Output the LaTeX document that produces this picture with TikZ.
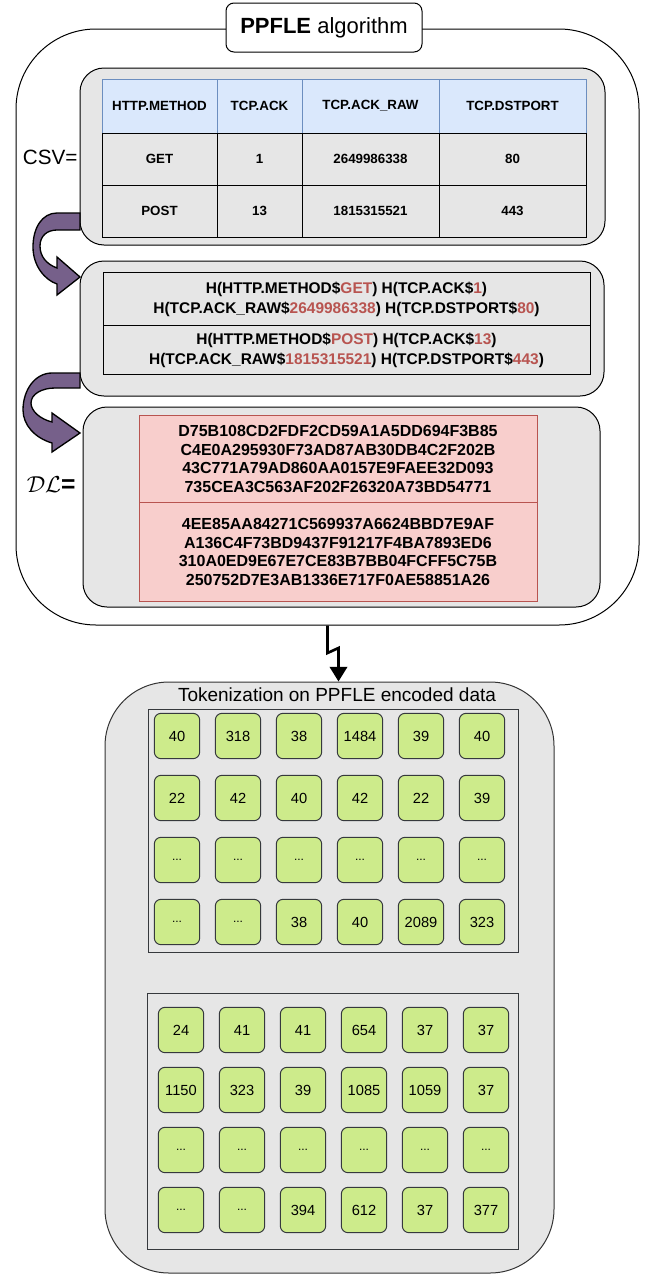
\documentclass[tikz,border=0pt]{standalone}
\usepackage{fontspec}
\setmainfont{Liberation Sans}
\usepackage{xcolor}
\usetikzlibrary{arrows.meta}

\definecolor{boxgray}{HTML}{E6E6E6}
\definecolor{headblue}{HTML}{DAE8FC}
\definecolor{headline}{HTML}{6C8EBF}
\definecolor{hashred}{HTML}{F8CECC}
\definecolor{hashline}{HTML}{B85450}
\definecolor{tokgreen}{HTML}{CDEB8B}
\definecolor{tokline}{HTML}{36393D}
\definecolor{bendpurple}{HTML}{76608A}

\newcommand{\tokdots}{{\fontsize{9}{10}\selectfont...}}

\begin{document}
\begin{tikzpicture}[x=0.75pt,y=0.75pt,yscale=-1,xscale=1,line width=0.75pt,
    panel/.style={draw=black, fill=boxgray, rounded corners=18pt, inner sep=0pt},
    cell/.style={font=\bfseries\fontsize{10}{12}\selectfont, inner sep=0.75pt},
    hashtext/.style={font=\bfseries\fontsize{11.6}{15}\selectfont, align=center, inner sep=0.75pt},
    hextext/.style={font=\bfseries\fontsize{12}{14}\selectfont, align=center, inner sep=0.75pt},
    token/.style={draw=tokline, fill=tokgreen, rounded corners=5pt, minimum width=34pt, minimum height=34pt, inner sep=0pt, font=\fontsize{11}{12}\selectfont},
    bentarrow/.style={draw=black, fill=bendpurple, line width=1pt},
  ]
\useasboundingbox (0,0) rectangle (652,1274);

%Shape: Rounded Rect (algorithm frame)
\node[draw=black, fill=white, rounded corners=60pt, minimum width=467.25pt, minimum height=447pt, inner sep=0pt] (algo) at (327.5,327) {};
% Text Node
\node[draw=black, fill=white, rounded corners=6pt, minimum width=147pt, minimum height=36.75pt, font=\fontsize{16.5}{20}\selectfont] (algoTitle) at (324,27.5) {\textbf{PPFLE} algorithm};

%Shape: Rounded Rect (panels)
\node[panel, minimum width=393.75pt, minimum height=132.75pt] (csvPanel) at (342.5,156.5) {};
\node[panel, minimum width=393pt, minimum height=101.25pt] (hashPanel) at (342,328.5) {};
\node[panel, minimum width=387.75pt, minimum height=150pt] (dlPanel) at (341.5,507) {};

%Shape: Table
\fill[headblue] (102,79) rectangle (586,133);
\draw[headline] (102,133) -- (102,79) -- (586,79) -- (586,133);
\draw[headline] (217,79) -- (217,133) (302,79) -- (302,133) (439,79) -- (439,133);
\draw (102,133) rectangle (586,237);
\draw (102,185) -- (586,185);
\draw (217,133) -- (217,237) (302,133) -- (302,237) (439,133) -- (439,237);

% Text Node
\node[cell] (hdMethod) at (159.5,106) {HTTP.METHOD};
\node[cell] (hdAck) at (259.5,106) {TCP.ACK};
\node[cell] (hdAckRaw) at (370.5,106) {TCP.ACK\_RAW};
\node[cell] (hdPort) at (512.5,106) {TCP.DSTPORT};
\node[cell] (getMethod) at (159.5,159) {GET};
\node[cell] (getAck) at (259.5,159) {1};
\node[cell] (getAckRaw) at (370.5,159) {2649986338};
\node[cell] (getPort) at (512.5,159) {80};
\node[cell] (postMethod) at (159.5,211) {POST};
\node[cell] (postAck) at (259.5,211) {13};
\node[cell] (postAckRaw) at (370.5,211) {1815315521};
\node[cell] (postPort) at (512.5,211) {443};

% Text Node
\node[anchor=east, font=\fontsize{15.5}{18}\selectfont, inner sep=0.75pt] (csvLabel) at (79,157) {CSV=};

%Shape: Hash table
\draw (103,272) rectangle (590,374);
\draw (103,325) -- (590,325);
% Text Node
\node[hashtext] (hashGet) at (346.5,299) {H(HTTP.METHOD\$\textcolor{hashline}{GET}) H(TCP.ACK\$\textcolor{hashline}{1})\\H(TCP.ACK\_RAW\$\textcolor{hashline}{2649986338}) H(TCP.DSTPORT\$\textcolor{hashline}{80})};
\node[hashtext] (hashPost) at (346.5,350) {H(HTTP.METHOD\$\textcolor{hashline}{POST}) H(TCP.ACK\$\textcolor{hashline}{13})\\H(TCP.ACK\_RAW\$\textcolor{hashline}{1815315521}) H(TCP.DSTPORT\$\textcolor{hashline}{443})};

%Shape: Encrypted block
\draw[draw=hashline, fill=hashred] (139,415) rectangle (537,601);
\draw[hashline] (139,502) -- (537,502);
% Text Node
\node[hextext] (hexGet) at (338,459) {D75B108CD2FDF2CD59A1A5DD694F3B85\\C4E0A295930F73AD87AB30DB4C2F202B\\43C771A79AD860AA0157E9FAEE32D093\\735CEA3C563AF202F26320A73BD54771};
\node[hextext] (hexPost) at (338,552) {4EE85AA84271C569937A6624BBD7E9AF\\A136C4F73BD9437F91217F4BA7893ED6\\310A0ED9E67E7CE83B7BB04FCFF5C75B\\250752D7E3AB1336E717F0AE58851A26};
% Text Node
\node[anchor=east, font=\fontsize{18.5}{20}\selectfont, inner sep=0.75pt] (dlLabel) at (77,485) {$\mathcal{DL}$\textbf{=}};

%Curve Lines (bent arrows)
\draw[bentarrow] (80,213) -- (57,213) .. controls (42,213) and (33,228) .. (33,247) .. controls (33,266) and (45,280) .. (57,284) -- (57,295) -- (80,277) -- (57,257) -- (57,268) .. controls (46,264) and (40,256) .. (40,246) .. controls (40,236) and (47,230) .. (57,230) -- (80,230) -- cycle;
\draw[bentarrow] (80,373) -- (52,373) .. controls (35,373) and (23,390) .. (23,410) .. controls (23,425) and (35,438) .. (52,443) -- (52,452) -- (80,433) -- (52,413) -- (52,422) .. controls (40,419) and (31,411) .. (31,403) .. controls (31,394) and (42,388) .. (55,388) -- (80,388) -- cycle;

%Shape: Rounded Rect (tokenization frame)
\node[draw=black!80, fill=boxgray, rounded corners=48pt, minimum width=336.75pt, minimum height=443.25pt, inner sep=0pt] (tok) at (329.5,977.5) {};
% Text Node
\node[font=\fontsize{14.25}{17}\selectfont, inner sep=0.75pt] (tokTitle) at (337,695) {Tokenization on PPFLE encoded data};

%Connector
\coordinate (jogA) at (327.5,653);
\coordinate (jogB) at (338.5,648);
\draw[line width=2pt, -{Triangle[width=13pt,length=11pt]}] (algo.south) -- (jogA) -- (jogB) -- (jogB |- tok.north);

%Shape: token grids
\draw[tokline] (148,709) rectangle (518,952);
\draw[tokline] (147,993) rectangle (518,1249);
\foreach \vals [count=\r] in {{40,318,38,1484,39,40},{22,42,40,42,22,39},{\tokdots,\tokdots,\tokdots,\tokdots,\tokdots,\tokdots},{\tokdots,\tokdots,38,40,2089,323}}
  \foreach \v [count=\c] in \vals
    \node[token] (tokA-\r-\c) at ({177+61*(\c-1)},{736+62*(\r-1)}) {\v};
\foreach \vals [count=\r] in {{24,41,41,654,37,37},{1150,323,39,1085,1059,37},{\tokdots,\tokdots,\tokdots,\tokdots,\tokdots,\tokdots},{\tokdots,\tokdots,394,612,37,377}}
  \foreach \v [count=\c] in \vals
    \node[token] (tokB-\r-\c) at ({181+61*(\c-1)},{1030+60*(\r-1)}) {\v};

\end{tikzpicture}
\end{document}
